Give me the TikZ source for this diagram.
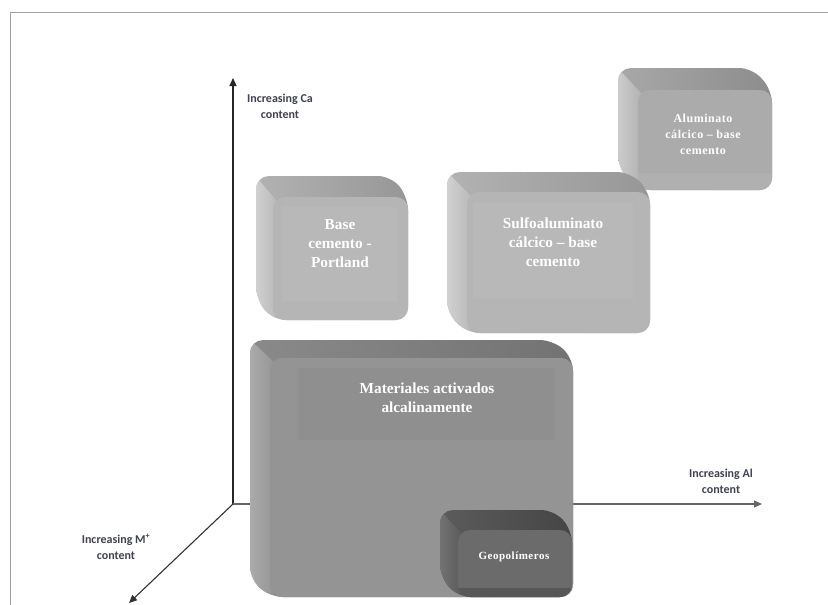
\documentclass[tikz,border=0pt]{standalone}
\usepackage{fontspec}
\setmainfont{Liberation Serif}
\newfontfamily\lblfont{Carlito}
\newfontfamily\spacedfont[LetterSpace=4.5]{Liberation Serif}
\usetikzlibrary{arrows.meta}
\definecolor{axcol}{HTML}{3F4350}
\definecolor{framecol}{HTML}{A0A0A0}
\newcommand{\bevelbox}[9]{%
  \begin{scope}
    \clip[rounded corners=13pt] ({#1-#5},{#2-#6}) -- ({#3-#5},{#2-#6}) -- (#3,#2) -- (#3,#4) -- (#1,#4) -- ({#1-#5},{#4-#6}) -- cycle;
    \shade[#8] ({#1-#5-1},{#2-#6-1}) rectangle ({#3+1},{#4+1});
    \shade[#9] ({#1-#5-3},{#2-#6-3}) -- ({#1+3},{#2+3}) -- ({#1+3},{#4+3}) -- ({#1-#5-3},{#4+3}) -- cycle;
  \end{scope}
  \fill[#7, rounded corners=12pt] (#1,#2) rectangle (#3,#4);
}
\begin{document}
\begin{tikzpicture}[x=1pt,y=-1pt,
  axis/.style={line width=1.1pt, -{Triangle[width=7pt,length=8pt]}},
  axlabel/.style={font=\lblfont\bfseries\fontsize{12}{16}\selectfont, text=axcol, align=center, inner sep=0pt},
  bigtext/.style={font=\bfseries\fontsize{15.3}{19}\selectfont, text=white, align=center, inner sep=0pt},
  smalltext/.style={font=\spacedfont\bfseries\fontsize{12}{16}\selectfont, text=white, align=center, inner sep=0pt},
  geotext/.style={font=\spacedfont\bfseries\fontsize{11}{14}\selectfont, text=white, align=center, inner sep=0pt},
  lighttop/.style={left color=black!30, right color=black!41},
  lightleft/.style={left color=black!17, right color=black!27},
  alutop/.style={left color=black!34, right color=black!45},
  aluleft/.style={left color=black!19, right color=black!30},
  midtop/.style={left color=black!46, right color=black!55},
  midleft/.style={left color=black!32, right color=black!41},
  darktop/.style={left color=black!64, right color=black!73},
  darkleft/.style={left color=black!54, right color=black!64}]
\useasboundingbox (0,0) rectangle (828,605);
\fill[white] (0,0) rectangle (828,605);
% frame
\draw[framecol, line width=1pt] (10,605) -- (10,12) -- (828,12);
% axes
\coordinate (O) at (233,504);
\coordinate (ytip) at (233,78);
\coordinate (xtip) at (762,504);
\coordinate (ztip) at (129,603);
\draw[axis, black!85] (O) -- (ytip);
\draw[axis, black!60] (O) -- (xtip);
\draw[axis, black!80] (O) -- (ztip);
\node[axlabel] (lblca) at (280,106) {Increasing Ca\\content};
\node[axlabel] (lblal) at (721,481) {Increasing Al\\content};
\node[axlabel] (lblm) at (116,547) {Increasing M\textsuperscript{+}\\content};
% Aluminato box
\bevelbox{638}{90}{772}{190}{20}{22}{black!33}{alutop}{aluleft}
\begin{scope}
  \clip[rounded corners=12pt] (638,90) rectangle (772,190);
  \fill[black!31] (638,173) rectangle (772,190);
\end{scope}
% Base box
\bevelbox{273}{197}{408}{320}{17}{21}{black!29}{lighttop}{lightleft}
\fill[black!28] (282,207) rectangle (397,302);
% Sulfo box
\bevelbox{467}{192}{650}{333}{20}{20}{black!29}{lighttop}{lightleft}
\fill[black!28] (473,203) rectangle (633,298);
% Materiales box
\bevelbox{270}{358}{573}{597}{20}{18}{black!42}{midtop}{midleft}
\fill[black!44] (298,368) rectangle (555,440);
% Geopolimeros box
\bevelbox{458}{530}{572}{597}{18}{20}{black!66}{darktop}{darkleft}
\begin{scope}
  \clip[rounded corners=12pt] (458,530) rectangle (572,597);
  \fill[black!58] (458,530) rectangle (572,588);
\end{scope}
% texts
\node[smalltext] (alu) at (703,134) {Aluminato\\cálcico – base\\cemento};
\node[bigtext] (base) at (340,244) {Base\\cemento -\\Portland};
\node[bigtext] (sulfo) at (553,242) {Sulfoaluminato\\cálcico – base\\cemento};
\node[bigtext] (mat) at (427,398) {Materiales activados\\alcalinamente};
\node[geotext] (geo) at (514,557) {Geopolímeros};
\end{tikzpicture}
\end{document}
